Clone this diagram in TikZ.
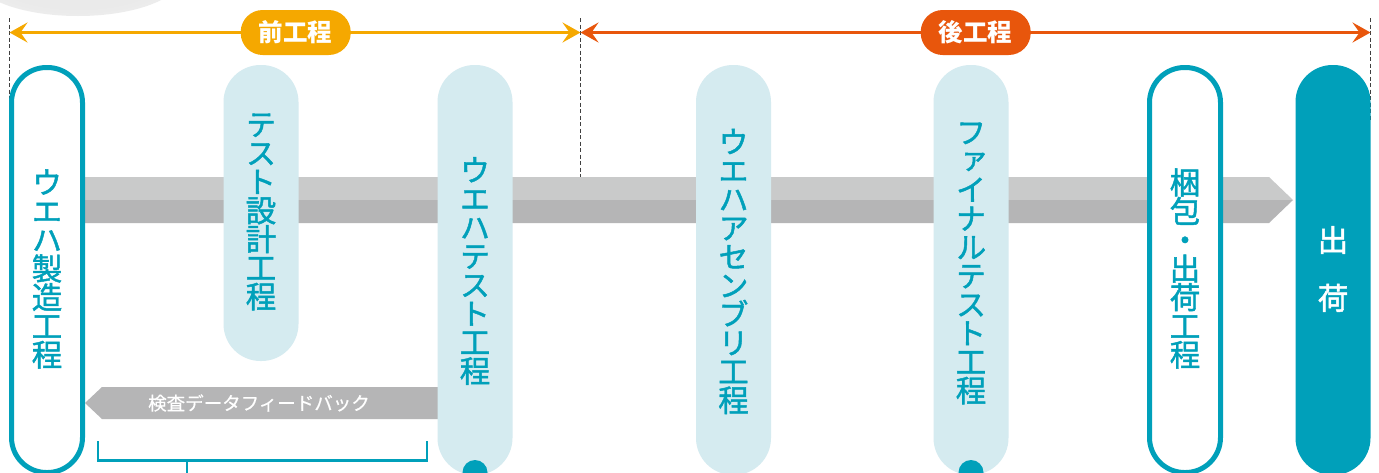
\documentclass[tikz,border=0pt]{standalone}
\usepackage{fontspec}
\newfontfamily\cjk{Noto Sans CJK JP}
\newfontfamily\cjkv[RawFeature=+vert, FakeBold=1.5]{Noto Sans CJK JP}
\newfontfamily\cjkm[FakeBold=0.6]{Noto Sans CJK JP}
\usetikzlibrary{arrows.meta}
\definecolor{teal1}{RGB}{0,160,186}
\definecolor{pillbg}{RGB}{213,235,240}
\definecolor{ora}{RGB}{245,168,0}
\definecolor{red1}{RGB}{232,86,12}
\definecolor{bandtop}{RGB}{201,202,202}
\definecolor{bandbot}{RGB}{181,181,182}
\definecolor{fbgray}{RGB}{181,181,182}
\pgfdeclareradialshading{shadowfade}{\pgfpoint{0bp}{0bp}}{color(0bp)=(black!9); color(22bp)=(black!8); color(50bp)=(white); color(100bp)=(white)}
\begin{document}
\begin{tikzpicture}[x=1pt,y=-1pt,
  pillfill/.style={fill=pillbg, draw=none, rounded corners=37pt, minimum width=75pt, inner sep=0pt},
  pillout/.style={fill=white, draw=teal1, line width=5pt, rounded corners=35pt, minimum width=71pt, inner sep=0pt},
  vtext/.style={font=\cjkv\fontsize{30.5}{28.7}\selectfont, text=teal1, align=center, inner sep=0pt},
  phase/.style={text=white, font=\cjk\bfseries\fontsize{24.5}{24.5}\selectfont, rounded corners=22pt, minimum width=110pt, minimum height=45pt, inner sep=0pt},
  phasespan/.style={line width=3pt, {Stealth[length=18pt,width=20pt,inset=7pt]}-{Stealth[length=18pt,width=20pt,inset=7pt]}},
  guideline/.style={draw=black!75, line width=1.2pt, dash pattern=on 4pt off 2.5pt},
  bandstyle/.style={line width=2.5pt, draw=teal1},
]
\useasboundingbox (0,0) rectangle (1379,472);
\clip (0,0) rectangle (1379,472);
\fill[white] (0,0) rectangle (1379,472);
% shadow
\shade[shading=shadowfade] (78,-24) ellipse [x radius=104pt, y radius=40pt];

% guides
\coordinate (gA1) at (9.5,18);   \coordinate (gA2) at (9.5,122);
\coordinate (gB1) at (580.5,18); \coordinate (gB2) at (580.5,177);
\coordinate (gC1) at (1370.5,18);\coordinate (gC2) at (1370.5,120);
\draw[guideline] (gA1) -- (gA2);
\draw[guideline] (gB1) -- (gB2);
\draw[guideline] (gC1) -- (gC2);

% phase arrows
\coordinate (aL) at (9.5,32.5);
\coordinate (aM) at (580.5,32.5);
\coordinate (aR) at (1370.5,32.5);
\draw[phasespan, ora] (aL) -- (aM);
\draw[phasespan, red1] (aM) -- (aR);
\node[phase, fill=ora] (pre) at (295.7,32.5) {前工程};
\node[phase, fill=red1] (post) at (975.7,32.5) {後工程};

% main band
\fill[bandtop] (50,177) -- (1269,177) -- (1293,200) -- (50,200) -- cycle;
\fill[bandbot] (50,200) -- (1293,200) -- (1269,223) -- (50,223) -- cycle;

% feedback arrow
\fill[fbgray] (445,387) -- (102,387) -- (85,403) -- (102,419) -- (445,419) -- cycle;

% pills
\node[pillout, minimum height=405pt] (p1) at (47,270) {};
\node[pillfill, minimum height=296pt] (p2) at (261,213) {};
\node[pillfill, minimum height=410pt] (p3) at (475,270) {};
\node[pillfill, minimum height=410pt] (p4) at (733.5,270) {};
\node[pillfill, minimum height=410pt] (p5) at (971,270) {};
\node[pillout, minimum height=405pt] (p6) at (1185,270) {};
\node[pillfill, fill=teal1, minimum height=410pt] (p7) at (1333,270) {};

% texts
\node[vtext] (t1) at (47,269) {ウ\\エ\\ハ\\製\\造\\工\\程};
\node[vtext] (t2) at (261,212) {テ\\ス\\ト\\設\\計\\工\\程};
\node[vtext] (t3) at (475,271) {ウ\\エ\\ハ\\テ\\ス\\ト\\工\\程};
\node[vtext] (t4) at (733.5,271.5) {ウ\\エ\\ハ\\ア\\セ\\ン\\ブ\\リ\\工\\程};
\node[vtext] (t5) at (971,263.5) {フ\\ァ\\イ\\ナ\\ル\\テ\\ス\\ト\\工\\程};
\node[vtext] (t6) at (1185,268.5) {梱\\包\\・\\出\\荷\\工\\程};
\node[vtext, text=white] (t7) at (1333,269) {出\\[29.3pt]荷};

\node[font=\cjkm\fontsize{18.5}{18.5}\selectfont, text=white, inner sep=0pt] (fb) at (259,403) {検査データフィードバック};

% bracket
\coordinate (b1) at (98,441);
\coordinate (b2) at (98,460.5);
\coordinate (b3) at (427,460.5);
\coordinate (b4) at (427,441);
\coordinate (bm) at (187,460.5);
\coordinate (be) at (187,476);
\draw[bandstyle] (b1) -- (b2) -- (b3) -- (b4);
\draw[bandstyle] (bm) -- (be);

% dots
\node[circle, fill=teal1, minimum size=25pt, inner sep=0pt] (d1) at (475,472.5) {};
\node[circle, fill=teal1, minimum size=25pt, inner sep=0pt] (d2) at (971,472.5) {};
\end{tikzpicture}
\end{document}
